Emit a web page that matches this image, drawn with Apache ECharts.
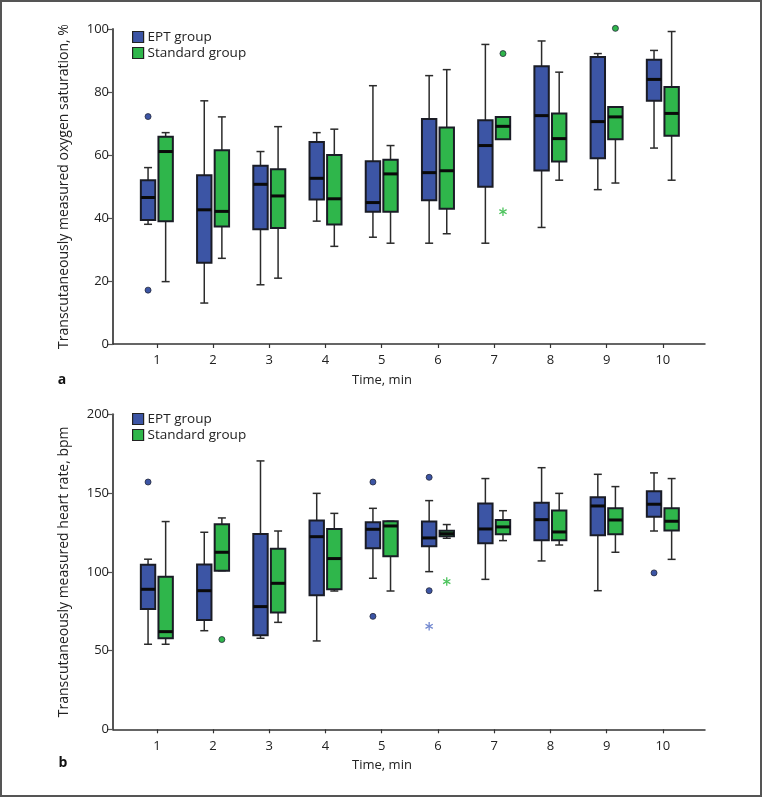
<!DOCTYPE html>
<html>
<head>
<meta charset="utf-8">
<script src="https://cdn.jsdelivr.net/npm/echarts@6/dist/echarts.min.js"></script>
<style>
html,body{margin:0;padding:0;background:#fff;}
#chart{width:762px;height:797px;}
</style>
</head>
<body>
<div id="chart"></div>
<script>
// ---- data ----
const times = [1, 2, 3, 4, 5, 6, 7, 8, 9, 10];
const groupNames = ['EPT group', 'Standard group'];
const yTicksA = [0, 20, 40, 60, 80, 100];
const yTicksB = [0, 50, 100, 150, 200];

// [min, Q1, median, Q3, max]
const spo2EPT = [
  [38, 39.4, 46.5, 52, 56],
  [13, 25.8, 42.6, 53.6, 77.2],
  [18.8, 36.4, 50.7, 56.6, 61.1],
  [39, 45.9, 52.6, 64.1, 67.1],
  [33.9, 42, 44.9, 58, 82],
  [32, 45.6, 54.4, 71.4, 85.2],
  [32, 49.9, 63, 71, 95.1],
  [37, 55.1, 72.5, 88.2, 96.2],
  [49, 59, 70.6, 91.1, 92.2],
  [62.2, 77.2, 84, 90.2, 93.2]
];
const spo2Std = [
  [19.8, 39, 61.1, 65.8, 67.1],
  [27.2, 37.3, 42.1, 61.5, 72.1],
  [20.9, 36.8, 47, 55.5, 69],
  [31, 37.9, 46.1, 60, 68.2],
  [32, 42, 54, 58.5, 63],
  [35, 42.9, 55, 68.7, 87.1],
  [65, 65, 69.1, 72.1, 72.1],
  [52, 57.9, 65.2, 73.2, 86.3],
  [51.1, 65, 72.1, 75.2, 75.2],
  [52, 66.1, 73.2, 81.6, 99.2]
];
const hrEPT = [
  [54, 76.4, 88.9, 104.5, 108],
  [62.6, 69.4, 88, 104.6, 125.1],
  [57.8, 59.7, 77.9, 124, 170.4],
  [56.1, 85.1, 122.3, 132.5, 149.8],
  [95.9, 114.9, 127, 131.4, 140.3],
  [100.1, 116.2, 121.5, 131.9, 145.2],
  [95.2, 118.1, 127.2, 143.3, 159.2],
  [106.9, 120, 133.1, 143.9, 166.1],
  [88, 123.2, 141.8, 147.3, 161.9],
  [125.9, 135, 142.9, 151.1, 162.8]
];
const hrStd = [
  [54, 57.8, 62, 96.9, 131.9],
  [100.7, 100.7, 112.4, 130.2, 134.2],
  [67.9, 74.1, 92.7, 114.7, 125.9],
  [87.8, 88.9, 108.4, 127.2, 137.1],
  [87.8, 109.8, 129.1, 132.1, 132.1],
  [121.3, 122.5, 124.2, 126.1, 130],
  [119.8, 123.8, 128.5, 132.9, 138.8],
  [117, 120, 125.3, 139, 149.8],
  [112.4, 123.8, 132.9, 140.3, 154.1],
  [107.9, 126.3, 132.1, 140.3, 159.2]
];

// outliers: [time, value, kind] kind 0 = circle, 1 = asterisk
const spo2EPTOut = [[1, 72.2, 0], [1, 17.1, 0]];
const spo2StdOut = [[7, 92.2, 0], [9, 100.2, 0], [7, 42, 1]];
const hrEPTOut = [[1, 157, 0], [5, 157, 0], [5, 71.7, 0], [6, 160, 0], [6, 88, 0], [10, 99.3, 0], [6, 65.4, 1]];
const hrStdOut = [[2, 57, 0], [6, 93.8, 1]];

// ---- styles ----
const BLUE = '#3c55a5';
const GREEN = '#2fb64b';
const FONT = '"Open Sans", "Noto Sans", sans-serif';
const OFF = 8.8;

function rows(arr) { return times.map((t, i) => [t].concat(arr[i])); }

function boxRender(off, fill) {
  return function (params, api) {
    const t = api.value(0);
    const p = [1, 2, 3, 4, 5].map(i => api.coord([t, api.value(i)]));
    const cx = p[0][0] + off;
    const y = p.map(q => q[1]);
    const hw = 7.2, ch = 4;
    const ls = { stroke: '#2b2b2b', lineWidth: 1.5 };
    return {
      type: 'group',
      children: [
        { type: 'line', shape: { x1: cx, y1: y[4], x2: cx, y2: y[3] }, style: ls },
        { type: 'line', shape: { x1: cx, y1: y[1], x2: cx, y2: y[0] }, style: ls },
        { type: 'line', shape: { x1: cx - ch, y1: y[4], x2: cx + ch, y2: y[4] }, style: ls },
        { type: 'line', shape: { x1: cx - ch, y1: y[0], x2: cx + ch, y2: y[0] }, style: ls },
        { type: 'rect', shape: { x: cx - hw, y: y[3], width: 2 * hw, height: y[1] - y[3] },
          style: { fill: fill, stroke: '#1a1c26', lineWidth: 2 } },
        { type: 'line', shape: { x1: cx - hw, y1: y[2], x2: cx + hw, y2: y[2] },
          style: { stroke: '#0a0a0a', lineWidth: 3 } }
      ]
    };
  };
}

function outRender(off, fill, starColor) {
  return function (params, api) {
    const c = api.coord([api.value(0), api.value(1)]);
    const cx = c[0] + off, cy = c[1];
    if (api.value(2) === 1) {
      const r = 4.2, s = { stroke: starColor, lineWidth: 1.3 };
      const dx = r * Math.cos(Math.PI / 6), dy = r * Math.sin(Math.PI / 6);
      return {
        type: 'group',
        children: [
          { type: 'line', shape: { x1: cx, y1: cy - r, x2: cx, y2: cy + r }, style: s },
          { type: 'line', shape: { x1: cx - dx, y1: cy - dy, x2: cx + dx, y2: cy + dy }, style: s },
          { type: 'line', shape: { x1: cx - dx, y1: cy + dy, x2: cx + dx, y2: cy - dy }, style: s }
        ]
      };
    }
    return { type: 'circle', shape: { cx: cx, cy: cy, r: 3 }, style: { fill: fill, stroke: '#24283a', lineWidth: 0.8 } };
  };
}

function xAxisDef(gi) {
  return {
    type: 'value', gridIndex: gi, min: 0.22, max: 10.75,
    splitLine: { show: false },
    axisLine: { show: true, onZero: false, lineStyle: { color: '#333', width: 1.5 } },
    axisTick: { show: true, customValues: times, length: 4, lineStyle: { color: '#333', width: 1.2 } },
    axisLabel: { customValues: times, margin: 10, color: '#222', fontSize: 13, fontFamily: FONT }
  };
}
function yAxisDef(gi, max, interval, name) {
  return {
    type: 'value', gridIndex: gi, min: 0, max: max, interval: interval,
    name: name, nameLocation: 'middle', nameGap: 42,
    nameTextStyle: { color: '#222', fontSize: 14, fontFamily: FONT },
    splitLine: { show: false },
    axisLine: { show: true, lineStyle: { color: '#555', width: 2 } },
    axisTick: { show: true, length: 6, lineStyle: { color: '#555', width: 1.2 } },
    axisLabel: { margin: 4, color: '#222', fontSize: 13, fontFamily: FONT }
  };
}

function legendDef(top) {
  return {
    orient: 'vertical', left: 127, top: top,
    icon: 'rect', itemWidth: 11, itemHeight: 11, itemGap: 2,
    textStyle: { fontSize: 13.5, fontFamily: FONT, color: '#222', padding: [0, 0, 0, -1] },
    itemStyle: { borderColor: '#222', borderWidth: 1.2 },
    data: groupNames.map((n, i) => ({ name: n, itemStyle: { color: i ? GREEN : BLUE } }))
  };
}

const chart = echarts.init(document.getElementById('chart'), null, { renderer: 'canvas' });

const series = [];
const sets = [
  [0, spo2EPT, spo2Std, spo2EPTOut, spo2StdOut],
  [1, hrEPT, hrStd, hrEPTOut, hrStdOut]
];
sets.forEach(([gi, e, s, eo, so]) => {
  series.push({ type: 'custom', name: groupNames[0], xAxisIndex: gi, yAxisIndex: gi,
    itemStyle: { color: BLUE }, renderItem: boxRender(-OFF, BLUE), data: rows(e),
    encode: { x: 0, y: [1, 2, 3, 4, 5] }, silent: true });
  series.push({ type: 'custom', name: groupNames[1], xAxisIndex: gi, yAxisIndex: gi,
    itemStyle: { color: GREEN }, renderItem: boxRender(OFF, GREEN), data: rows(s),
    encode: { x: 0, y: [1, 2, 3, 4, 5] }, silent: true });
  series.push({ type: 'custom', name: groupNames[0], xAxisIndex: gi, yAxisIndex: gi,
    itemStyle: { color: BLUE }, renderItem: outRender(-OFF, BLUE, '#7288d0'), data: eo,
    encode: { x: 0, y: 1 }, silent: true });
  series.push({ type: 'custom', name: groupNames[1], xAxisIndex: gi, yAxisIndex: gi,
    itemStyle: { color: GREEN }, renderItem: outRender(OFF, GREEN, '#4cc35c'), data: so,
    encode: { x: 0, y: 1 }, silent: true });
});

chart.setOption({
  animation: false,
  backgroundColor: '#fff',
  textStyle: { fontFamily: FONT },
  grid: [
    { left: 113, top: 29, width: 592, height: 315 },
    { left: 113, top: 414.3, width: 592, height: 315 }
  ],
  xAxis: [xAxisDef(0), xAxisDef(1)],
  yAxis: [
    yAxisDef(0, 100, 20, 'Transcutaneously measured oxygen saturation, %'),
    yAxisDef(1, 200, 50, 'Transcutaneously measured heart rate, bpm')
  ],
  legend: [legendDef(25), legendDef(407)],
  series: series,
  graphic: [
    { type: 'rect', shape: { x: 1, y: 1, width: 760, height: 795 }, style: { fill: 'none', stroke: '#555', lineWidth: 2 }, silent: true },
    { type: 'text', style: { text: 'Time, min', x: 382, y: 380, align: 'center', verticalAlign: 'middle', fontSize: 13, fontFamily: FONT, fill: '#222' } },
    { type: 'text', style: { text: 'Time, min', x: 382, y: 765, align: 'center', verticalAlign: 'middle', fontSize: 13, fontFamily: FONT, fill: '#222' } },
    { type: 'text', style: { text: 'a', x: 62, y: 380, align: 'center', verticalAlign: 'middle', fontSize: 14, fontWeight: 'bold', fontFamily: FONT, fill: '#111' } },
    { type: 'text', style: { text: 'b', x: 63, y: 763, align: 'center', verticalAlign: 'middle', fontSize: 14, fontWeight: 'bold', fontFamily: FONT, fill: '#111' } }
  ]
});
</script>
</body>
</html>
